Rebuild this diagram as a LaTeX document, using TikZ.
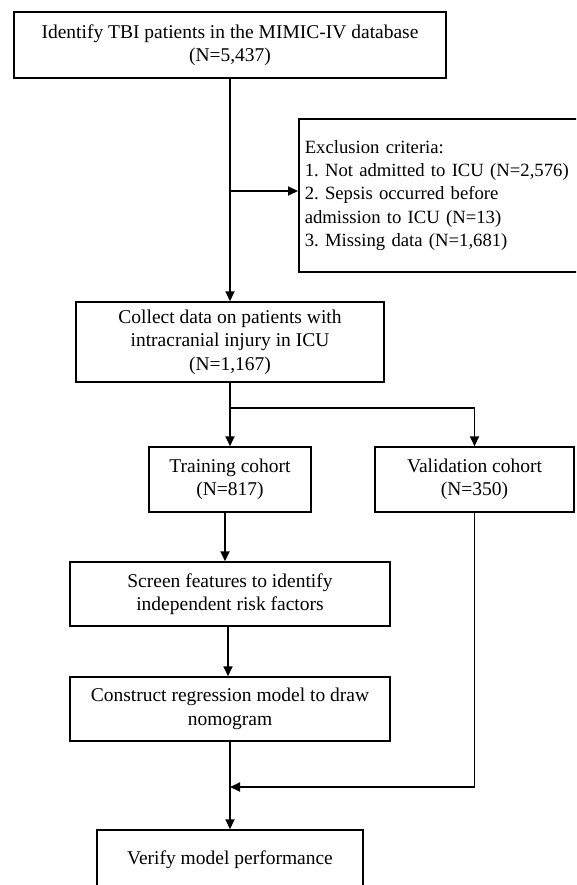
\documentclass[tikz,border=0pt]{standalone}
\usepackage{fontspec}
\setmainfont{Liberation Serif}
\usetikzlibrary{arrows.meta}
\frenchspacing
\begin{document}
\begin{tikzpicture}[x=1pt,y=-1pt,
  box/.style={draw,line width=1.5pt,rectangle,align=center,inner sep=0pt,
    font=\fontsize{19.5}{23.5}\selectfont},
  arr/.style={line width=1.8pt,-{Triangle[length=10pt,width=9pt]}},
  ln/.style={line width=1.8pt}]
\clip (0,0) rectangle (576,885);
\fill[white] (0,0) rectangle (576,885);
\node[box,minimum width=432pt,minimum height=66pt] (b1) at (230,45) {Identify TBI patients in the MIMIC-IV database\\(N=5,437)};
\node[box,anchor=west,minimum width=320pt,minimum height=153pt,align=left,text width=310pt,inner xsep=6pt,font=\fontsize{18.7}{23.3}\selectfont] (ex) at (298,195.5) {Exclusion criteria:\\1. Not admitted to ICU (N=2,576)\\2. Sepsis occurred before\\admission to ICU (N=13)\\3. Missing data (N=1,681)};
\node[box,minimum width=308pt,minimum height=80pt] (b2) at (230,342) {Collect data on patients with\\intracranial injury in ICU\\(N=1,167)};
\node[box,minimum width=162pt,minimum height=65pt] (tr) at (230,479.5) {Training cohort\\(N=817)};
\node[box,minimum width=199pt,minimum height=65pt] (va) at (474.5,479.5) {Validation cohort\\(N=350)};
\node[box,minimum width=320pt,minimum height=64pt] (b3) at (230,594) {Screen features to identify\\independent risk factors};
\node[box,minimum width=320pt,minimum height=64pt] (b4) at (230,709) {Construct regression model to draw\\nomogram};
\node[box,minimum width=266pt,minimum height=60pt] (b5) at (230,860) {Verify model performance};
\coordinate (j1) at (230,191);
\coordinate (j2) at (230,408);
\coordinate (j3) at (474.5,408);
\coordinate (j4) at (474.5,787);
\coordinate (j5) at (230,787);
\draw[arr] (b1.south) -- (b2.north);
\draw[arr] (j1) -- (j1 -| ex.west);
\draw[ln] (b2.south) -- (j2);
\draw[arr] (j2) -- (tr.north);
\draw[arr] (j2) -- (j3) -- (va.north);
\draw[arr] ([xshift=-5pt]tr.south) -- ([xshift=-5pt]b3.north);
\draw[arr] ([xshift=-2pt]b3.south) -- ([xshift=-2pt]b4.north);
\draw[arr] (b4.south) -- (b5.north);
\draw[arr] (va.south) -- (j4) -- (j5);
\end{tikzpicture}
\end{document}
